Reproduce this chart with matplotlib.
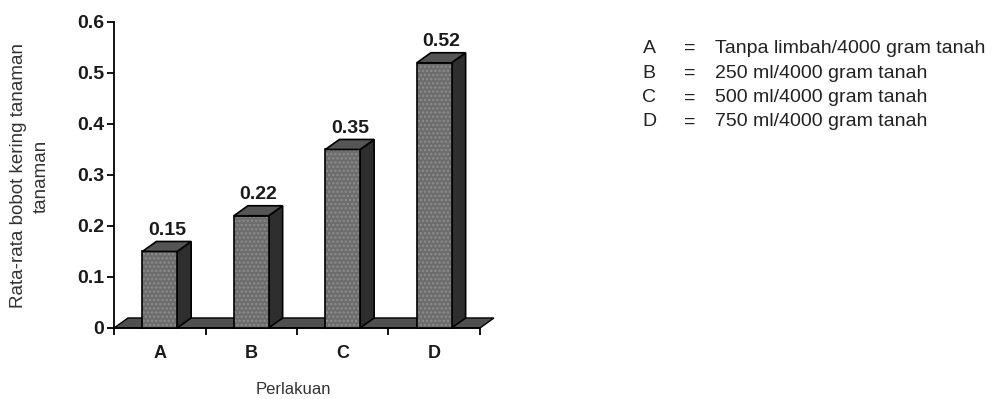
import matplotlib
matplotlib.use("Agg")
import matplotlib.pyplot as plt
from matplotlib.patches import Polygon

categories = ["A", "B", "C", "D"]
values = [0.15, 0.22, 0.35, 0.52]
value_labels = ["0.15", "0.22", "0.35", "0.52"]
legend_keys = ["A", "B", "C", "D"]
legend_texts = [
    "Tanpa limbah/4000 gram tanah",
    "250 ml/4000 gram tanah",
    "500 ml/4000 gram tanah",
    "750 ml/4000 gram tanah",
]
y_ticks = [0, 0.1, 0.2, 0.3, 0.4, 0.5, 0.6]
y_tick_labels = ["0", "0.1", "0.2", "0.3", "0.4", "0.5", "0.6"]

plt.rcParams["font.family"] = ["Liberation Sans", "DejaVu Sans"]
plt.rcParams["hatch.linewidth"] = 1.2

fig = plt.figure(figsize=(9.95, 3.99), dpi=100)
ax = fig.add_axes([0.1146, 0.178, 0.3678, 0.767])
ax.set_xlim(0, len(categories))
ax.set_ylim(0, 0.6)

# depth of the pseudo-3D extrusion, in data units
dx = 14 * len(categories) / 366.0
dy = 10 * 0.6 / 306.0
bar_w = 0.38

front = "#6c6c6c"
side = "#2e2e2e"
top = "#555555"
speckle = "#8c8c8c"

# floor slab
x0, x1 = 0.0, float(len(categories))
ax.add_patch(Polygon([(x0, 0), (x1, 0), (x1 + dx, dy), (x0 + dx, dy)], closed=True,
                     facecolor="#505050", edgecolor="black", lw=1.0, clip_on=False, zorder=2))

centers = [i + 0.5 for i in range(len(categories))]
# front faces: stippled fill, then a black outline on top
ax.bar(centers, values, width=bar_w, color=front, edgecolor=speckle, hatch="....",
       linewidth=0, zorder=4, clip_on=False)
ax.bar(centers, values, width=bar_w, fill=False, edgecolor="black",
       linewidth=1.2, zorder=4.5, clip_on=False)
for c, v, lab in zip(centers, values, value_labels):
    l, r = c - bar_w / 2, c + bar_w / 2
    ax.add_patch(Polygon([(r, 0), (r + dx, dy), (r + dx, v + dy), (r, v)], closed=True,
                         facecolor=side, edgecolor="black", lw=1.2, zorder=3, clip_on=False))
    ax.add_patch(Polygon([(l, v), (r, v), (r + dx, v + dy), (l + dx, v + dy)], closed=True,
                         facecolor=top, edgecolor="black", lw=1.2, zorder=5, clip_on=False))
    ax.annotate(lab, (c + dx / 2, v + dy), xytext=(0, 2), textcoords="offset points",
                ha="center", va="bottom", fontsize=14, fontweight="bold", color="#1a1a1a")

for s in ["top", "right"]:
    ax.spines[s].set_visible(False)
ax.spines["left"].set_linewidth(1.3)
ax.spines["bottom"].set_linewidth(1.3)

ax.set_yticks(y_ticks)
ax.set_yticklabels(y_tick_labels, fontsize=14, fontweight="bold", color="#1a1a1a")
ax.tick_params(axis="y", length=5, width=1.3, pad=2)

ax.set_xticks(range(len(categories) + 1))
ax.set_xticklabels([])
ax.tick_params(axis="x", which="major", length=5, width=1.3)
ax.set_xticks(centers, minor=True)
ax.set_xticklabels(categories, minor=True, fontsize=13, fontweight="bold", color="#1a1a1a")
ax.tick_params(axis="x", which="minor", length=0, pad=12)

fig.text(293 / 995, 1 - 389 / 399, "Perlakuan", ha="center", va="center",
         fontsize=12, color="#333333")
fig.text(30 / 995, 1 - 176 / 399, "Rata-rata bobot kering tanaman\ntanaman",
         rotation=90, ha="center", va="center", fontsize=13.5, color="#333333",
         linespacing=1.4)

row_y = [48.5, 73.5, 98, 122]
for k, t, yy in zip(legend_keys, legend_texts, row_y):
    fy = 1 - yy / 399
    fig.text(649 / 995, fy, k, ha="center", va="center", fontsize=14, color="#222222")
    fig.text(690 / 995, fy, "=", ha="center", va="center", fontsize=14, color="#222222")
    fig.text(715 / 995, fy, t, ha="left", va="center", fontsize=14, color="#222222")

fig.savefig("out.png", dpi=100)
